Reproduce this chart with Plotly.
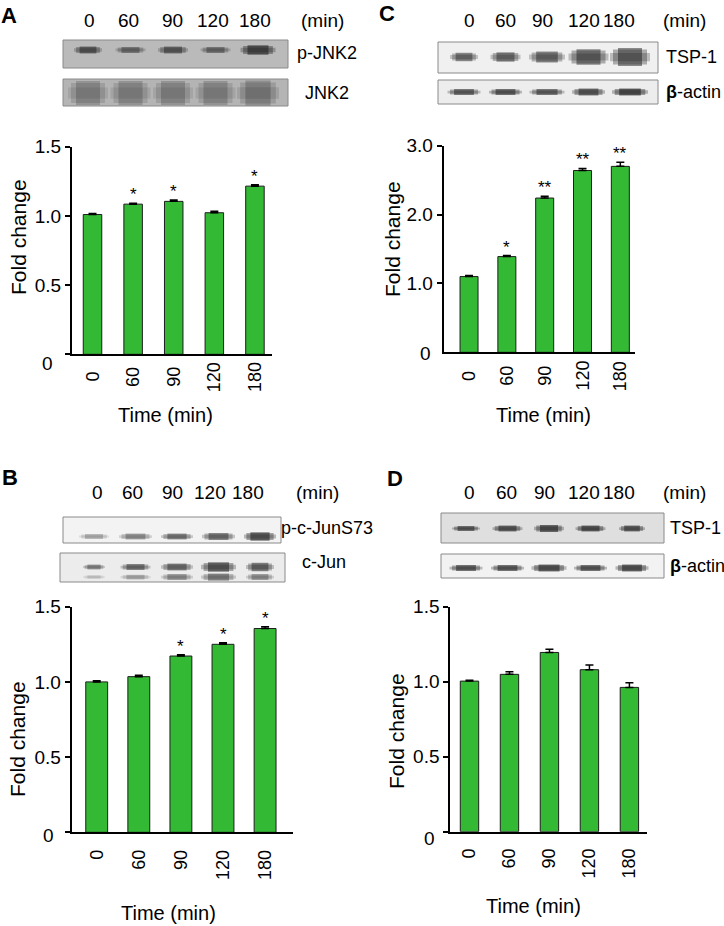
import plotly.graph_objects as go

W, H = 724, 926

# Data
times = ["0", "60", "90", "120", "180"]

# A: p-JNK2 fold change
fold_a = [1.01, 1.085, 1.105, 1.023, 1.215]
err_a = [0.007, 0.007, 0.01, 0.01, 0.01]
stars_a = ["", "*", "*", "", "*"]

# C: TSP-1 fold change
fold_c = [1.10, 1.39, 2.24, 2.64, 2.70]
err_c = [0.015, 0.015, 0.025, 0.03, 0.06]
stars_c = ["", "*", "**", "**", "**"]

# B: p-c-JunS73 fold change
fold_b = [1.0, 1.035, 1.172, 1.25, 1.355]
err_b = [0.007, 0.009, 0.009, 0.011, 0.011]
stars_b = ["", "", "*", "*", "*"]

# D: TSP-1 fold change
fold_d = [1.004, 1.049, 1.195, 1.08, 0.962]
err_d = [0.005, 0.018, 0.022, 0.031, 0.031]
stars_d = ["", "", "", "", ""]

ticks_15 = [0.0, 0.5, 1.0, 1.5]
ticktext_15 = ["", "0.5", "1.0", "1.5"]
ticks_30 = [1.0, 2.0, 3.0]
ticktext_30 = ["1.0", "2.0", "3.0"]

# blot band estimates (intensity 0-1, band length px, band thickness px)
pjnk2_int = [0.75, 0.6, 0.7, 0.6, 0.9]
pjnk2_len = [28, 30, 30, 30, 35]
pjnk2_thk = [6, 5, 6, 5, 8]
jnk2_int = [0.35, 0.35, 0.35, 0.35, 0.4]
jnk2_len = [40, 40, 40, 40, 42]
jnk2_thk = [20, 20, 20, 20, 21]

tspc_int = [0.7, 0.72, 0.75, 0.8, 0.8]
tspc_len = [28, 30, 36, 40, 40]
tspc_thk = [7, 8, 9, 13, 15]
actc_int = [0.8, 0.85, 0.8, 0.85, 0.95]
actc_len = [33, 33, 35, 33, 36]
actc_thk = [5, 5, 5, 6, 6]

pjun_int = [0.35, 0.5, 0.65, 0.7, 0.9]
pjun_len = [30, 33, 32, 33, 32]
pjun_thk = [4, 5, 5, 6, 7]
cjun_int = [0.55, 0.7, 0.7, 0.85, 0.75]
cjun_len = [22, 30, 32, 35, 28]
cjun_thk = [4, 5, 6, 8, 7]
cjun2_int = [0.2, 0.35, 0.5, 0.6, 0.5]
cjun2_len = [22, 30, 32, 35, 28]
cjun2_thk = [3, 4, 5, 6, 5]

tspd_int = [0.85, 0.85, 0.9, 0.9, 0.85]
tspd_len = [28, 30, 30, 30, 26]
tspd_thk = [4, 5, 6, 5, 5]
actd_int = [0.85, 0.85, 0.9, 0.85, 0.9]
actd_len = [33, 33, 35, 33, 33]
actd_thk = [5, 5, 6, 5, 6]

REG = "Liberation Sans, Arial, sans-serif"
GREEN = "#34b934"


def px(x):
    return x / W


def py(y):
    return 1 - y / H


def label(x, y, text, size, xanchor="center", yanchor="middle", angle=0, xref="paper", yref="paper"):
    return dict(xref=xref, yref=yref, x=x, y=y, text=text, textangle=angle, showarrow=False,
                xanchor=xanchor, yanchor=yanchor, font=dict(family=REG, size=size, color="black"))


# layout of each panel (pixels)
panels = [
    dict(letter="A", letter_xy=(9, 15), fold=fold_a, err=err_a, stars=stars_a,
         tv=ticks_15, tt=ticktext_15, ymax=1.5, x0=72, x1=272, ytop=146.7, ybot=354.3,
         xr=(-0.505, 4.42), bw=0.456, zero=(47, 363), xlab_y=377, xlab_anchor="middle",
         ytitle=(18, 237), xtitle=(165, 415),
         lane0=88, lane_s=42.5, rows=(50, 93), lab_x=[89, 128, 172, 213, 255], lab_y=21, min_x=322,
         strips=[(63, 288, 40, 68, "#bababa"), (63, 288, 79, 106, "#b4b4b4")],
         bands=[(0, pjnk2_int, pjnk2_len, pjnk2_thk, 0), (1, jnk2_int, jnk2_len, jnk2_thk, 0)],
         names=[("p-JNK2", 295, 53), ("JNK2", 303, 93)]),
    dict(letter="C", letter_xy=(387, 14), fold=fold_c, err=err_c, stars=stars_c,
         tv=ticks_30, tt=ticktext_30, ymax=3.0, x0=443.7, x1=634.7, ytop=145.7, ybot=352.3,
         xr=(-0.67, 4.38), bw=0.476, zero=(425, 353), xlab_y=376, xlab_anchor="middle",
         ytitle=(392, 239), xtitle=(543, 415),
         lane0=464, lane_s=41.5, rows=(57, 92), lab_x=[470, 505, 542, 584, 619], lab_y=20, min_x=684,
         strips=[(438, 658, 42, 73, "#f0f0f0"), (438, 658, 80, 104, "#ededed")],
         bands=[(0, tspc_int, tspc_len, tspc_thk, 0), (1, actc_int, actc_len, actc_thk, 0)],
         names=[("TSP-1", 664, 57), ("<b>β</b>-actin", 664, 92)]),
    dict(letter="B", letter_xy=(10, 477), fold=fold_b, err=err_b, stars=stars_b,
         tv=ticks_15, tt=ticktext_15, ymax=1.5, x0=71.7, x1=293.3, ytop=606.7, ybot=832.3,
         xr=(-0.594, 4.67), bw=0.52, zero=(48, 835), xlab_y=848, xlab_anchor="top",
         ytitle=(17, 739), xtitle=(168, 913),
         lane0=94, lane_s=41.5, rows=(536.5, 567), lab_x=[97, 132, 172, 210, 248], lab_y=492, min_x=317,
         strips=[(63, 281, 517, 543, "#f3f3f3"), (60, 285, 553, 582, "#ececec")],
         bands=[(0, pjun_int, pjun_len, pjun_thk, 0), (1, cjun_int, cjun_len, cjun_thk, 0),
                (1, cjun2_int, cjun2_len, cjun2_thk, 0.33)],
         names=[("p-c-JunS73", 279, 528), ("c-Jun", 300, 562)]),
    dict(letter="D", letter_xy=(395, 478), fold=fold_d, err=err_d, stars=stars_d,
         tv=ticks_15, tt=ticktext_15, ymax=1.5, x0=450.3, x1=647, ytop=606.7, ybot=831.7,
         xr=(-0.48, 4.44), bw=0.46, zero=(429, 838), xlab_y=846, xlab_anchor="top",
         ytitle=(396, 731), xtitle=(533, 906),
         lane0=466, lane_s=41.5, rows=(528.5, 568), lab_x=[469, 506, 544, 584, 619], lab_y=492, min_x=684,
         strips=[(441, 664, 513, 543, "#dfdfdf"), (441, 664, 554, 578, "#f2f2f2")],
         bands=[(0, tspd_int, tspd_len, tspd_thk, 0), (1, actd_int, actd_len, actd_thk, 0)],
         names=[("TSP-1", 668, 528), ("<b>β</b>-actin", 668, 566)]),
]

fig = go.Figure()
annotations = []
shapes = []
lay = {}
idx = list(range(len(times)))

# each band = three stacked layers (long/thin/light -> short/thick/dark)
band_layers = [(1.0, 0.55, 0.3), (0.85, 1.0, 0.4), (0.6, 1.2, 0.6)]

for i, p in enumerate(panels):
    n = i + 1
    m = i + 5
    xa, ya = f"x{n}", f"y{n}"

    # bar chart
    fig.add_trace(go.Bar(
        x=idx, y=p["fold"], width=p["bw"],
        marker=dict(color=GREEN, line=dict(color="#1e1e1e", width=1)),
        error_y=dict(type="data", array=p["err"], arrayminus=[0] * len(p["err"]), symmetric=False,
                     color="black", thickness=1.5, width=4),
        xaxis=xa, yaxis=ya, showlegend=False, hoverinfo="skip"))

    lay[f"xaxis{n}"] = dict(domain=[px(p["x0"]), px(p["x1"])], range=list(p["xr"]), anchor=ya,
                            showline=True, linecolor="black", linewidth=2, showgrid=False,
                            zeroline=False, showticklabels=False, ticks="", automargin=False)
    lay[f"yaxis{n}"] = dict(domain=[py(p["ybot"]), py(p["ytop"])], range=[0, p["ymax"]], anchor=xa,
                            showline=True, linecolor="black", linewidth=2, showgrid=False,
                            zeroline=False, ticks="outside", ticklen=5, tickwidth=2, tickcolor="black",
                            tickvals=p["tv"], ticktext=p["tt"], automargin=False,
                            tickfont=dict(family=REG, size=19, color="black"))

    # stars
    for j, st in enumerate(p["stars"]):
        if st:
            a = label(j, p["fold"][j] + p["err"][j], st, 17, yanchor="bottom", xref=xa, yref=ya)
            a["yshift"] = -3
            annotations.append(a)
    # rotated time labels
    for j, t in enumerate(times):
        annotations.append(label(j, py(p["xlab_y"]), t, 18, yanchor=p["xlab_anchor"], angle=-90, xref=xa))
    annotations.append(label(px(p["zero"][0]), py(p["zero"][1]), "0", 19))
    annotations.append(label(px(p["ytitle"][0]), py(p["ytitle"][1]), "Fold change", 21, angle=-90))
    annotations.append(label(px(p["xtitle"][0]), py(p["xtitle"][1]), "Time (min)", 20))
    annotations.append(label(px(p["letter_xy"][0]), py(p["letter_xy"][1]), "<b>" + p["letter"] + "</b>", 22))

    # western blot strips
    r0, r1 = p["rows"]
    d = r1 - r0
    l0, s = p["lane0"], p["lane_s"]
    lay[f"xaxis{m}"] = dict(domain=[px(l0 - s / 2), px(l0 + 4.5 * s)], range=[-0.5, 4.5],
                            visible=False, anchor=f"y{m}", automargin=False)
    lay[f"yaxis{m}"] = dict(domain=[py(r1 + d / 2), py(r0 - d / 2)], range=[1.5, -0.5],
                            visible=False, anchor=f"x{m}", automargin=False)
    for (sx0, sx1, sy0, sy1, fill) in p["strips"]:
        shapes.append(dict(type="rect", xref="paper", yref="paper", x0=px(sx0), x1=px(sx1),
                           y0=py(sy1), y1=py(sy0), fillcolor=fill,
                           line=dict(color="#8a8a8a", width=1), layer="below"))
    for (row, inten, blen, bthk, off) in p["bands"]:
        for lf, tf, af in band_layers:
            hh = [t * tf / d for t in bthk]
            fig.add_trace(go.Bar(
                x=idx, y=hh, base=[row + off - h / 2 for h in hh],
                width=[b * lf / s for b in blen],
                marker=dict(color=[f"rgba(25,25,25,{a * af:.2f})" for a in inten], line=dict(width=0)),
                xaxis=f"x{m}", yaxis=f"y{m}", showlegend=False, hoverinfo="skip"))
    for j, t in enumerate(times):
        annotations.append(label(px(p["lab_x"][j]), py(p["lab_y"]), t, 19))
    annotations.append(label(px(p["min_x"]), py(p["lab_y"]), "(min)", 19))
    for (txt, tx, ty) in p["names"]:
        annotations.append(label(px(tx), py(ty), txt, 18, xanchor="left"))

fig.update_layout(
    width=W, height=H,
    margin=dict(l=0, r=0, t=0, b=0, autoexpand=False),
    paper_bgcolor="white", plot_bgcolor="white",
    barmode="overlay",
    annotations=annotations, shapes=shapes,
    **lay,
)

fig.write_html("out.html", config={"displayModeBar": False},
               post_script="document.body.style.margin='0';document.body.style.overflow='hidden';")
